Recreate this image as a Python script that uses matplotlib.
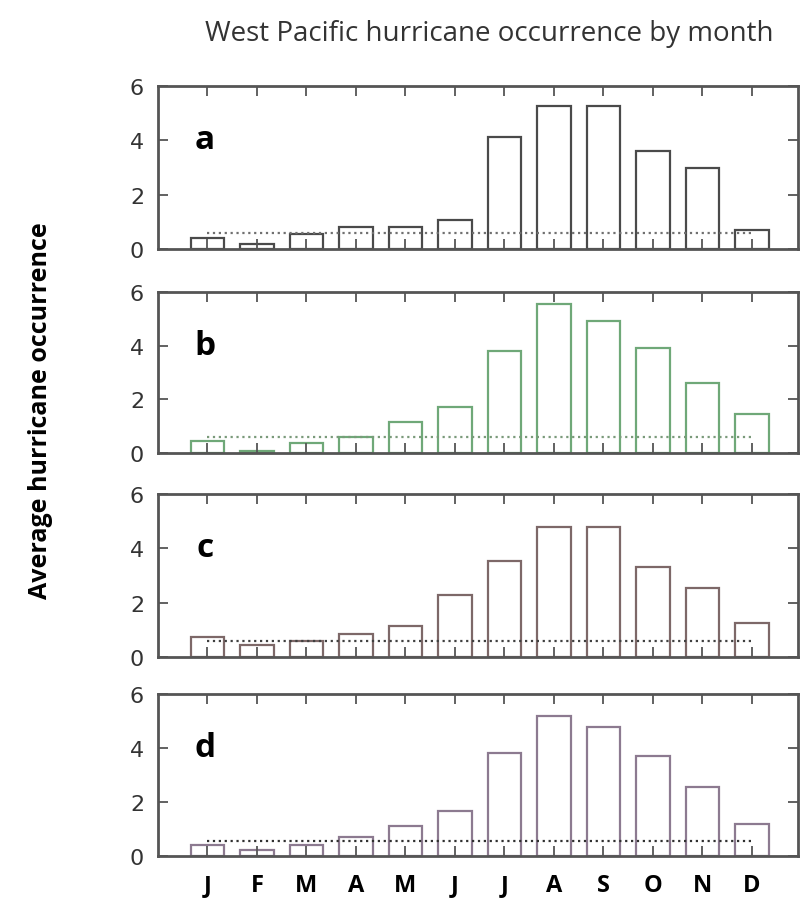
import matplotlib.pyplot as plt

# Dados (média de ocorrência por mês)
meses = ['J', 'F', 'M', 'A', 'M', 'J', 'J', 'A', 'S', 'O', 'N', 'D']
paineis = ['a', 'b', 'c', 'd']

valores_a = [0.42, 0.17, 0.55, 0.81, 0.81, 1.08, 4.11, 5.25, 5.25, 3.62, 2.97, 0.71]
valores_b = [0.43, 0.09, 0.37, 0.60, 1.17, 1.73, 3.81, 5.55, 4.91, 3.90, 2.61, 1.45]
valores_c = [0.73, 0.46, 0.59, 0.83, 1.13, 2.27, 3.53, 4.78, 4.78, 3.33, 2.54, 1.26]
valores_d = [0.42, 0.22, 0.42, 0.69, 1.12, 1.67, 3.83, 5.20, 4.79, 3.70, 2.57, 1.18]

# linha pontilhada (média) de cada painel
media = [0.58, 0.58, 0.59, 0.56]

todos = [valores_a, valores_b, valores_c, valores_d]
cores = ['#4a4a4a', '#6fa878', '#7d6868', '#8c7a90']
cores_media = ['#707070', '#7a9a7a', '#404040', '#303030']

fig = plt.figure(figsize=(8.02, 9.03), dpi=100)

# posições dos painéis [esquerda, baixo, largura, altura]
posicoes = [
    [0.197, 0.7231, 0.798, 0.1805],
    [0.197, 0.4972, 0.798, 0.1783],
    [0.197, 0.2713, 0.798, 0.1805],
    [0.197, 0.0509, 0.798, 0.1794],
]

x = list(range(len(meses)))

for i, (vals, letra) in enumerate(zip(todos, paineis)):
    ax = fig.add_axes(posicoes[i])
    ax.bar(x, vals, width=0.68, facecolor='none', edgecolor=cores[i], linewidth=1.6)
    ax.plot([x[0], x[-1]], [media[i], media[i]], linestyle=':', color=cores_media[i], linewidth=1.6)

    ax.set_xlim(-1, 11.93)
    ax.set_ylim(0, 6)
    ax.set_yticks([0, 2, 4, 6])
    ax.set_xticks(x)

    for s in ax.spines.values():
        s.set_color('#555555')
        s.set_linewidth(2)

    ax.tick_params(axis='both', direction='in', top=True, right=True,
                   length=7, width=1.3, color='#555555')
    ax.tick_params(axis='y', labelsize=16, labelcolor='#333333', pad=10)

    if i == 3:
        ax.set_xticklabels(meses, fontsize=17, fontweight='bold', family='Open Sans')
        ax.tick_params(axis='x', pad=12)
    else:
        ax.set_xticklabels([])

    ax.text(0.073, 0.67, letra, transform=ax.transAxes, fontsize=24,
            fontweight='bold', ha='center', va='center', family='Open Sans')

# Títulos
fig.text(0.61, 0.962, 'West Pacific hurricane occurrence by month',
         fontsize=20, ha='center', va='center', color='#333333', family='Open Sans')
fig.text(0.05, 0.545, 'Average hurricane occurrence', fontsize=18,
         rotation=90, ha='center', va='center',
         family=['Liberation Sans Narrow', 'Open Sans'], fontweight='bold')

plt.savefig('out.png', dpi=100)
